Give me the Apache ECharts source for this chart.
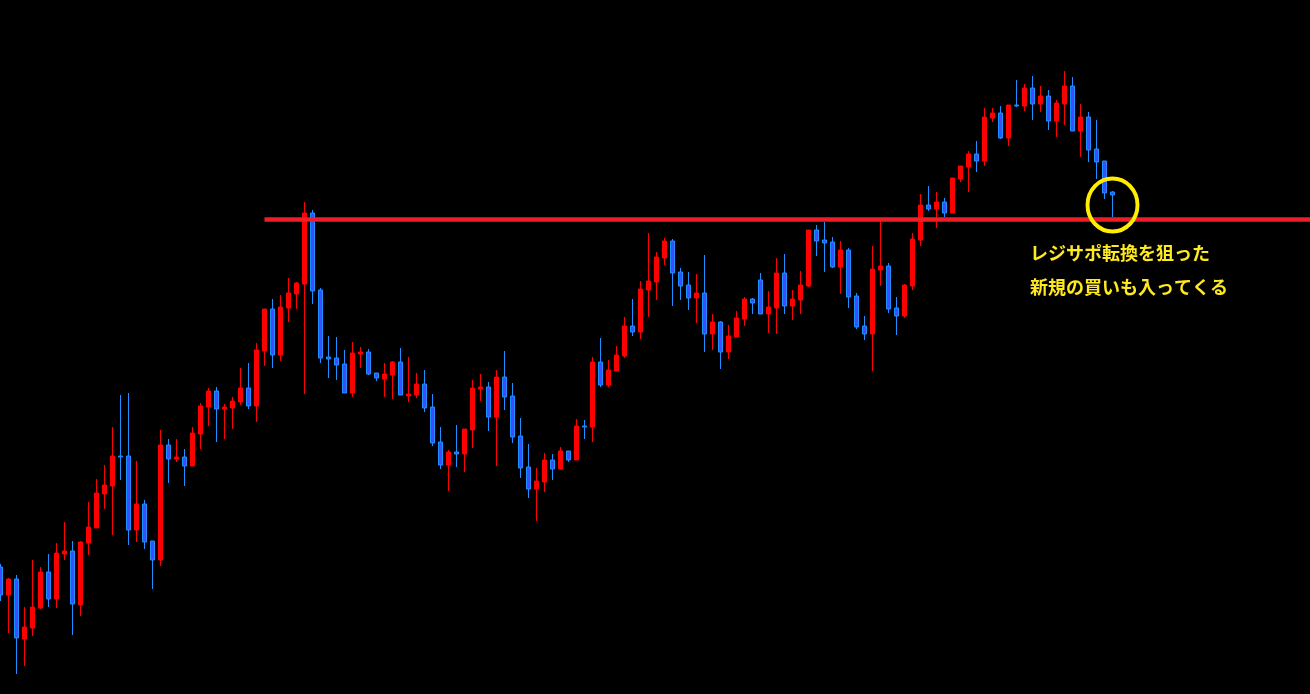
<!DOCTYPE html>
<html><head><meta charset="utf-8">
<script src="https://cdn.jsdelivr.net/npm/echarts@6/dist/echarts.min.js"></script>
<style>html,body{margin:0;padding:0;background:#000;}#c{width:1310px;height:694px;}</style>
</head><body><div id="c"></div>
<script>
// Price values (arbitrary points)
const opens=[127,99,115,55,66,86,122,95,140,143,
89,151,166,200,208,238,238,164,190,153,
134,249,235,237,228,260,287,303,285,286,
292,306,288,343,385,339,386,400,410,481,
404,337,336,330,301,340,342,321,315,319,
332,298,299,310,287,252,229,242,240,264,
305,307,277,317,298,258,227,205,212,234,
225,243,234,268,267,332,309,323,338,368,
362,404,412,436,453,422,409,396,401,360,
372,342,357,375,395,414,380,386,421,388,
394,408,464,454,452,427,444,398,368,360,
424,428,386,378,408,454,489,485,492,481,
515,527,540,533,576,581,556,589,588,606,
590,598,573,590,608,563,577,545,533,502];
const closes=[99,115,56,67,87,122,95,141,143,90,
152,167,201,209,238,237,164,190,152,134,
249,235,237,228,261,288,303,285,287,293,
306,288,344,385,339,387,401,411,481,403,
336,335,329,301,341,342,320,316,320,332,
299,300,310,286,251,229,242,240,265,306,
307,277,317,297,257,226,205,213,234,225,
243,234,268,267,332,309,324,339,368,362,
405,413,437,453,421,408,396,401,360,372,
342,358,376,395,391,380,387,421,388,395,
409,464,453,451,427,444,397,367,360,425,
428,385,378,409,455,489,485,492,481,516,
528,540,533,577,581,556,589,588,606,590,
598,573,591,608,563,577,544,532,501,499];
const lows=[93,61,20,28,58,85,87,86,134,59,
78,139,166,185,159,214,149,152,145,105,
128,211,232,208,228,245,268,252,255,265,
289,285,272,328,326,333,372,385,300,390,
331,316,314,301,297,326,319,313,297,295,
299,292,296,282,248,225,203,227,222,246,
293,263,228,284,251,216,196,173,202,214,
224,232,234,255,252,307,307,323,336,358,
355,377,394,429,388,394,384,371,342,344,
325,335,357,368,380,380,361,360,380,374,
380,407,438,422,426,400,386,365,354,323,
408,381,359,376,404,448,483,466,477,481,
512,502,522,528,572,555,548,587,583,574,
582,564,557,569,563,537,532,515,495,477];
const highs=[130,116,119,87,134,127,140,151,172,153,
153,192,215,229,267,299,301,233,194,153,
264,255,255,245,267,291,306,307,290,297,
326,331,351,385,395,399,416,412,492,484,
406,358,357,344,352,347,345,321,331,333,
346,337,321,324,300,267,244,269,265,314,
320,312,324,343,311,276,250,226,241,240,
247,243,275,274,337,356,334,348,377,395,
413,461,442,456,455,426,422,420,439,380,
373,369,383,397,396,421,403,436,440,404,
423,464,469,472,457,453,446,401,378,448,
474,431,397,410,461,500,508,502,496,516,
528,543,553,586,586,588,589,614,610,618,
608,604,594,623,617,590,582,574,533,503];
const resistanceLevel=474.7;
const resistanceStartBar=33;
const highlightBar=139;
const highlightPrice=489;
const annotationLines=['レジサポ転換を狙った','新規の買いも入ってくる'];
const totalSlots=165;

const categories=Array.from({length:totalSlots},(_,i)=>'B'+i);
const candleData=opens.map((o,i)=>[o,closes[i],lows[i],highs[i]]);

const chart=echarts.init(document.getElementById('c'),null,{renderer:'canvas'});
chart.setOption({
  backgroundColor:'#000000',
  animation:false,
  grid:{left:-3.5,top:0,width:1320,height:694,containLabel:false,outerBoundsMode:'none'},
  xAxis:{type:'category',data:categories,show:false,boundaryGap:true},
  yAxis:{type:'value',min:0,max:694,show:false,splitLine:{show:false}},
  series:[{
    type:'candlestick',
    data:candleData,
    barWidth:5,
    clip:false,
    itemStyle:{color:'#ff0000',borderColor:'#ff0000',color0:'#3d4cff',borderColor0:'#1e8fff',borderWidth:1},
    markLine:{
      silent:true,symbol:['none','none'],label:{show:false},
      lineStyle:{color:'#ee1d27',width:4.5,type:'solid'},
      data:[[{coord:[categories[resistanceStartBar],resistanceLevel]},{coord:[categories[totalSlots-1],resistanceLevel]}]]
    },
    markPoint:{
      silent:true,
      data:[{coord:[categories[highlightBar],highlightPrice],symbol:'circle',symbolSize:[50,53],
        itemStyle:{color:'rgba(0,0,0,0)',borderColor:'#ffee00',borderWidth:4},label:{show:false}}]
    }
  }],
  graphic:annotationLines.map((t,i)=>({
    type:'text',x:1030,y:253+i*34.5,
    style:{text:t,fill:'#ffe920',font:'bold 18px "Noto Sans CJK JP"',verticalAlign:'middle',textVerticalAlign:'middle'}
  }))
});
</script></body></html>
